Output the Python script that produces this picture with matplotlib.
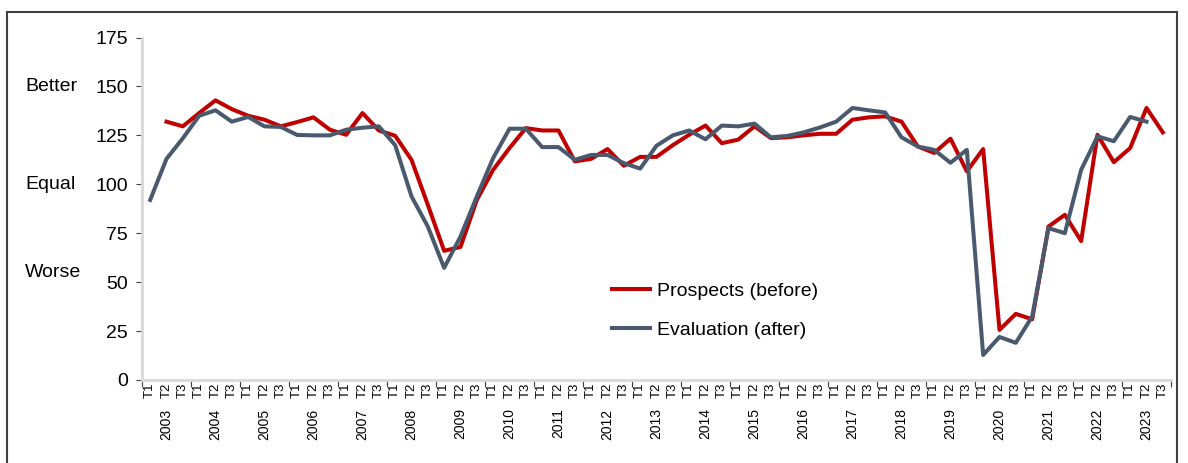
import matplotlib.pyplot as plt
from matplotlib.patches import Rectangle
import numpy as np

plt.rcParams['font.family'] = ['Liberation Sans', 'DejaVu Sans']

# Data
years = [str(y) for y in range(2003, 2024)]
quarters = ['T1', 'T2', 'T3']

# Prospects (before): starts at 2003 T2
prospects = [np.nan, 132, 129.6, 136.4, 142.9, 138.4, 135, 133, 129.6,
             131.8, 134.2, 127.9, 125.3, 136.4, 127.5, 124.8, 112.5, 89.5,
             66, 68, 92, 107.4, 118.5, 128.7, 127.5, 127.5, 111.7, 113, 118,
             109.5, 114, 114, 120, 125.3, 130, 121, 122.8, 129.6, 123.6, 124,
             125, 125.8, 125.8, 133, 134.2, 134.7, 132, 119.3, 116, 123.3,
             106.6, 118, 25.6, 33.8, 31, 78.4, 84.4, 71, 125.3, 111.3, 118.5,
             139, 126.5]

# Evaluation (after): ends at 2023 T2
evaluation = [92, 113, 123.5, 135, 137.8, 132, 134.4, 129.6, 129.3, 125.2,
              125, 125, 127.9, 128.9, 129.6, 120, 93.8, 78.4, 57.3, 73.3,
              93.8, 113.4, 128.4, 128.4, 119, 119, 112.5, 115, 115, 110.8, 108,
              119.7, 125, 127.5, 123, 130, 129.6, 131, 124, 124.7, 126.5, 129,
              132, 139, 137.8, 136.7, 124, 119.3, 117.6, 111, 117.6, 12.8, 22,
              19, 32.4, 77.6, 75, 107.4, 124.5, 122, 134.4, 132, np.nan]

W, H = 1188, 463
fig = plt.figure(figsize=(W / 100, H / 100), dpi=100)
ax = fig.add_axes([142 / W, 1 - 380 / H, (1171 - 142) / W, (380 - 37.5) / H])

x = np.arange(len(years) * len(quarters))
ax.plot(x, prospects, color='#C00000', lw=2.9, label='Prospects (before)')
ax.plot(x, evaluation, color='#4A5A6E', lw=2.9, label='Evaluation (after)')

ax.set_xlim(-0.5, len(x) - 0.5)
ax.set_ylim(0, 175)
ax.set_yticks(np.arange(0, 176, 25))
ax.tick_params(axis='y', labelsize=14, length=4, color='#404040', pad=6)

# quarter labels as minor ticks, year boundaries as major ticks
ax.set_xticks(np.arange(-0.5, len(x), 3))
ax.set_xticklabels([])
ax.tick_params(axis='x', which='major', length=5, color='#404040')
ax.set_xticks(x, minor=True)
ax.set_xticklabels(quarters * len(years), minor=True, rotation=90, fontsize=9.5)
ax.tick_params(axis='x', which='minor', length=0, pad=2)

for i, yr in enumerate(years):
    ax.text(i * 3 + 1, -0.083, yr, rotation=90, fontsize=10, ha='center', va='top',
            transform=ax.get_xaxis_transform())

for s in ['top', 'right']:
    ax.spines[s].set_visible(False)
for s in ['left', 'bottom']:
    ax.spines[s].set_color('#d9d9d9')
    ax.spines[s].set_linewidth(2)

# qualitative labels
for lbl, v in [('Better', 150), ('Equal', 100), ('Worse', 55)]:
    ax.text(25 / W, v, lbl, fontsize=14, ha='left', va='center',
            transform=ax.get_yaxis_transform().__class__(fig.transFigure, ax.transData))

fig.legend(loc='center left', bbox_to_anchor=(612 / W, 1 - 310.5 / H), frameon=False,
           fontsize=14, handlelength=1.95, handletextpad=0.36, labelspacing=1.1,
           borderpad=0, borderaxespad=0)

# outer frame
fig.patches.append(Rectangle((7 / W, -0.05), (1177 - 7) / W, 1.05 - 12 / H,
                             transform=fig.transFigure, fill=False,
                             edgecolor='#404040', lw=1.5))

fig.savefig('out.png', dpi=100)
